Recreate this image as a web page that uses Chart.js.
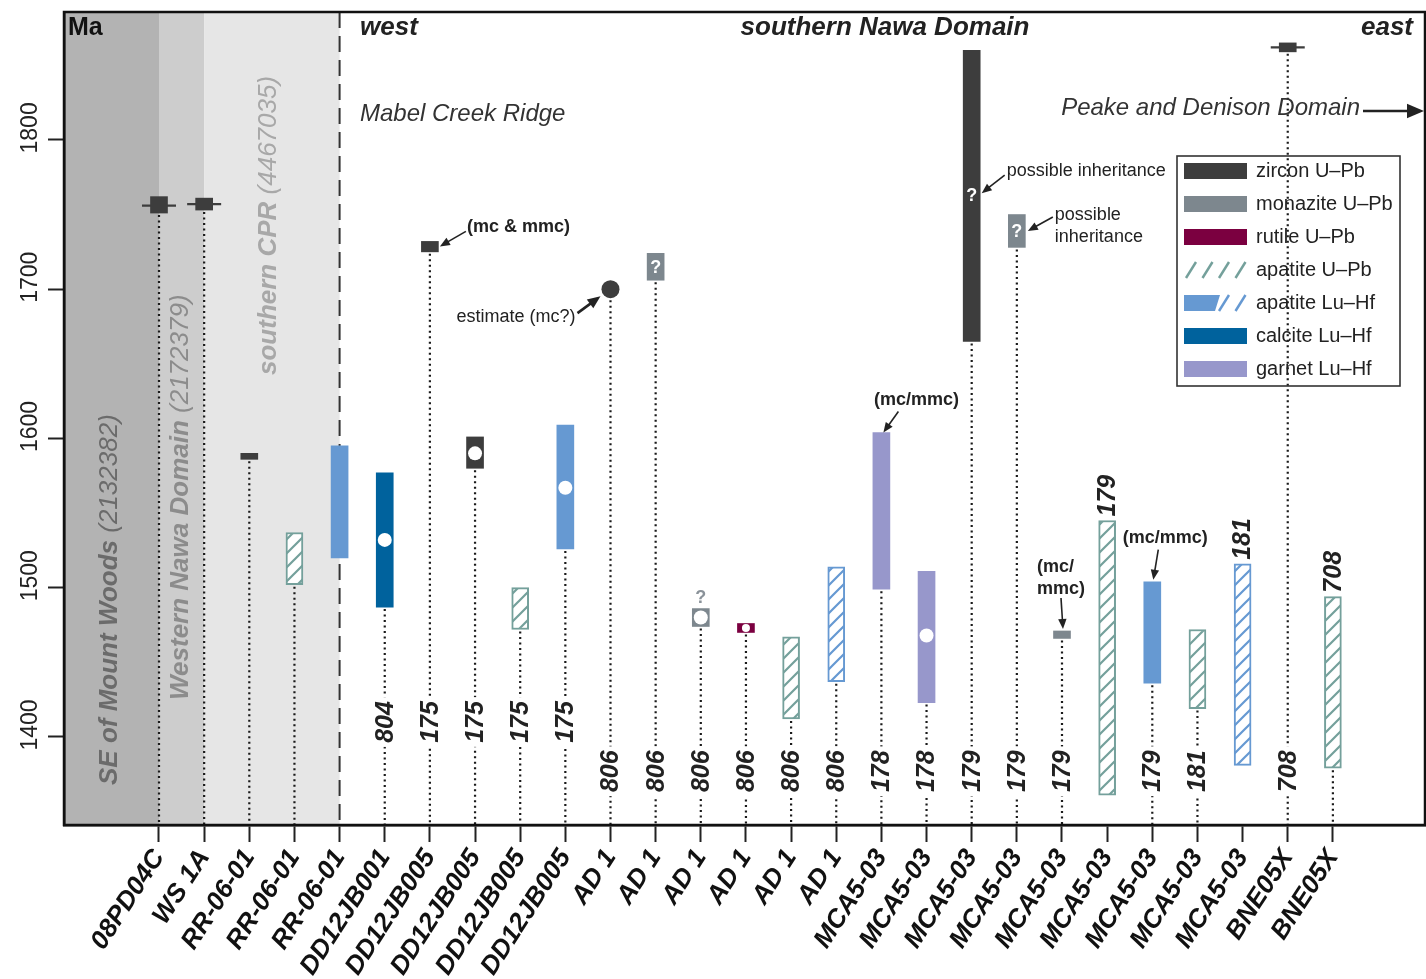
<!DOCTYPE html>
<html>
<head>
<meta charset="utf-8">
<script src="https://cdn.jsdelivr.net/npm/chart.js@4.4.1/dist/chart.umd.min.js"></script>
<style>
html, body { margin: 0; padding: 0; background: #fff; }
</style>
</head>
<body>
<canvas id="myChart" width="1426" height="979"></canvas>
<script>
"use strict";
// samples along the x axis
const samples = ['08PD04C', 'WS 1A', 'RR-06-01', 'RR-06-01', 'RR-06-01', 'DD12JB001',
  'DD12JB005', 'DD12JB005', 'DD12JB005', 'DD12JB005', 'AD 1', 'AD 1', 'AD 1', 'AD 1',
  'AD 1', 'AD 1', 'MCA5-03', 'MCA5-03', 'MCA5-03', 'MCA5-03', 'MCA5-03', 'MCA5-03',
  'MCA5-03', 'MCA5-03', 'MCA5-03', 'BNE05X', 'BNE05X'];
const sampleIds = ['', '', '', '', '', '804', '175', '175', '175', '175', '806', '806',
  '806', '806', '806', '806', '178', '178', '179', '179', '179', '179', '179', '181',
  '181', '708', '708'];
const idAbove = [21, 24, 26];
const yTicks = [1400, 1500, 1600, 1700, 1800];

// ages (Ma) per method: sample position, lower and upper age
const zirconAt = [0, 1, 2, 6, 7, 18, 25];
const zirconLo = [1751, 1753, 1586, 1725, 1580, 1665, 1859];
const zirconHi = [1762, 1761, 1590, 1732, 1601, 1860, 1865];
const zirconEstAt = [10];
const zirconEst = [1700];
const whiskerAt = [0, 1, 25];
const whiskerAge = [1756, 1757, 1862];
const monaziteAt = [11, 12, 19, 20];
const monaziteLo = [1706, 1474, 1728, 1466];
const monaziteHi = [1724, 1486, 1750, 1471];
const rutileAt = [13];
const rutileLo = [1470];
const rutileHi = [1476];
const apUPbAt = [3, 8, 14, 21, 23, 26];
const apUPbLo = [1502, 1472, 1412, 1361, 1419, 1379];
const apUPbHi = [1537, 1500, 1467, 1545, 1472, 1494];
const apLuHfAt = [4, 9, 22];
const apLuHfLo = [1520, 1526, 1436];
const apLuHfHi = [1595, 1609, 1504];
const apLuHfHatchAt = [15, 24];
const apLuHfHatchLo = [1437, 1381];
const apLuHfHatchHi = [1514, 1516];
const calciteAt = [5];
const calciteLo = [1487];
const calciteHi = [1577];
const garnetAt = [16, 17];
const garnetLo = [1499, 1423];
const garnetHi = [1604, 1511];
const meanAt = [5, 7, 9, 12, 13, 17];
const meanAge = [1532, 1590, 1567, 1480, 1473, 1468];

const FONT = "'Liberation Sans', Arial, sans-serif";
const C = {
  zircon: '#3d3d3d', monazite: '#7d878e', rutile: '#7b0040', apUPb: '#74a09b',
  apLuHf: '#6699d2', calcite: '#00629d', garnet: '#9797cb'
};

function ranges(at, lo, hi) {
  return at.map((x, i) => ({ x: x, y: [lo[i], hi[i]] }));
}
function points(at, v) {
  return at.map((x, i) => ({ x: x, y: v[i] }));
}

function hatch(color) {
  const c = document.createElement('canvas');
  c.width = 14; c.height = 14;
  const g = c.getContext('2d');
  g.fillStyle = '#fff';
  g.fillRect(0, 0, 14, 14);
  g.strokeStyle = color;
  g.lineWidth = 2.2;
  g.beginPath();
  g.moveTo(0, 14); g.lineTo(14, 0);
  g.moveTo(-7, 7); g.lineTo(7, -7);
  g.moveTo(7, 21); g.lineTo(21, 7);
  g.stroke();
  return g.createPattern(c, 'repeat');
}

function solidBar(label, data, color) {
  return { type: 'bar', label: label, data: data, backgroundColor: color, borderWidth: 0,
    grouped: false, barThickness: 17, order: 5 };
}
function hatchBar(label, data, color) {
  return { type: 'bar', label: label, data: data, backgroundColor: hatch(color),
    borderColor: color, borderWidth: 2, borderSkipped: false, grouped: false,
    barThickness: 17, order: 5 };
}

function vText(ctx, parts, x, y, align) {
  ctx.save();
  ctx.translate(x, y);
  ctx.rotate(-Math.PI / 2);
  ctx.textBaseline = 'middle';
  let total = 0;
  for (const p of parts) { ctx.font = p.font; total += ctx.measureText(p.t).width; }
  let pos = align === 'center' ? -total / 2 : 0;
  ctx.textAlign = 'left';
  for (const p of parts) {
    ctx.font = p.font;
    ctx.fillStyle = p.color;
    ctx.fillText(p.t, pos, 0);
    pos += ctx.measureText(p.t).width;
  }
  ctx.restore();
  return total;
}

function arrow(ctx, x1, y1, x2, y2, w, head) {
  const a = Math.atan2(y2 - y1, x2 - x1);
  ctx.save();
  ctx.strokeStyle = '#222';
  ctx.fillStyle = '#222';
  ctx.lineWidth = w;
  ctx.beginPath();
  ctx.moveTo(x1, y1);
  ctx.lineTo(x2 - Math.cos(a) * head * 0.8, y2 - Math.sin(a) * head * 0.8);
  ctx.stroke();
  const bx = x2 - head * Math.cos(a), by = y2 - head * Math.sin(a);
  const s = head * 0.42;
  ctx.beginPath();
  ctx.moveTo(x2, y2);
  ctx.lineTo(bx + s * Math.sin(a), by - s * Math.cos(a));
  ctx.lineTo(bx - s * Math.sin(a), by + s * Math.cos(a));
  ctx.closePath();
  ctx.fill();
  ctx.restore();
}

function text(ctx, t, x, y, font, align, color) {
  ctx.font = font;
  ctx.textAlign = align || 'left';
  ctx.textBaseline = 'middle';
  ctx.fillStyle = color || '#222';
  ctx.fillText(t, x, y);
}

// lowest age drawn at each sample position, used for the dotted drop lines
function lowestAt(i) {
  let lo = Infinity;
  const sets = [[zirconAt, zirconLo], [monaziteAt, monaziteLo], [rutileAt, rutileLo],
    [apUPbAt, apUPbLo], [apLuHfAt, apLuHfLo], [apLuHfHatchAt, apLuHfHatchLo],
    [calciteAt, calciteLo], [garnetAt, garnetLo], [zirconEstAt, zirconEst]];
  for (const [at, v] of sets) {
    at.forEach((x, k) => { if (x === i) lo = Math.min(lo, v[k]); });
  }
  return lo;
}

const figurePlugin = {
  id: 'figure',
  beforeDraw(chart) {
    const ctx = chart.ctx, a = chart.chartArea;
    const xs = chart.scales.x;
    ctx.save();
    ctx.fillStyle = '#fff';
    ctx.fillRect(0, 0, chart.width, chart.height);
    const x0 = xs.getPixelForValue(0), x1 = xs.getPixelForValue(1), x4 = xs.getPixelForValue(4);
    ctx.fillStyle = '#b3b3b3'; ctx.fillRect(a.left, a.top, x0 - a.left, a.bottom - a.top);
    ctx.fillStyle = '#cdcdcd'; ctx.fillRect(x0, a.top, x1 - x0, a.bottom - a.top);
    ctx.fillStyle = '#e6e6e6'; ctx.fillRect(x1, a.top, x4 - x1, a.bottom - a.top);
    vText(ctx, [{ t: 'SE of Mount Woods', font: `italic bold 26px ${FONT}`, color: '#6b6b6b' },
      { t: ' (2132382)', font: `italic 26px ${FONT}`, color: '#6b6b6b' }], 110, 785);
    vText(ctx, [{ t: 'Western Nawa Domain', font: `italic bold 26px ${FONT}`, color: '#8c8c8c' },
      { t: ' (2172379)', font: `italic 26px ${FONT}`, color: '#8c8c8c' }], 181, 700);
    vText(ctx, [{ t: 'southern CPR', font: `italic bold 26px ${FONT}`, color: '#a8a8a8' },
      { t: ' (4467035)', font: `italic 26px ${FONT}`, color: '#a8a8a8' }], 269, 375);
    ctx.restore();
  },
  beforeDatasetsDraw(chart) {
    const ctx = chart.ctx, a = chart.chartArea;
    const xs = chart.scales.x, ys = chart.scales.y;
    ctx.save();
    // boundary of the southern Nawa Domain
    ctx.strokeStyle = '#333';
    ctx.lineWidth = 2;
    ctx.setLineDash([16, 8]);
    ctx.beginPath();
    ctx.moveTo(xs.getPixelForValue(4), a.top);
    ctx.lineTo(xs.getPixelForValue(4), a.bottom);
    ctx.stroke();
    // dotted drop lines
    ctx.setLineDash([2, 3.5]);
    ctx.strokeStyle = '#1a1a1a';
    ctx.lineWidth = 2.2;
    samples.forEach((s, i) => {
      if (i === 4 || i === 21 || i === 24) return;
      const x = xs.getPixelForValue(i);
      let y = ys.getPixelForValue(lowestAt(i));
      if (zirconEstAt.includes(i)) y += 9;
      ctx.beginPath();
      ctx.moveTo(x, y + 2);
      ctx.lineTo(x, a.bottom);
      ctx.stroke();
    });
    ctx.setLineDash([]);
    // sample id numbers
    const idFont = `italic bold 25px ${FONT}`;
    ctx.font = idFont;
    sampleIds.forEach((t, i) => {
      if (!t) return;
      const x = xs.getPixelForValue(i);
      const w = ctx.measureText(t).width;
      if (idAbove.includes(i)) {
        let top = -Infinity;
        [[apUPbAt, apUPbHi], [apLuHfHatchAt, apLuHfHatchHi]].forEach(([at, v]) => {
          at.forEach((xx, k) => { if (xx === i) top = Math.max(top, v[k]); });
        });
        const yb = ys.getPixelForValue(top) - 4;
        vText(ctx, [{ t: t, font: idFont, color: '#222' }], x + 1, yb);
      } else {
        const yc = ys.getPixelForValue(i < 10 ? 1410 : 1377);
        ctx.fillStyle = '#fff';
        ctx.fillRect(x - 10, yc - w / 2 - 4, 20, w + 8);
        vText(ctx, [{ t: t, font: idFont, color: '#222' }], x + 1, yc, 'center');
      }
    });
    ctx.restore();
  },
  afterDatasetsDraw(chart) {
    const ctx = chart.ctx, a = chart.chartArea;
    const xs = chart.scales.x, ys = chart.scales.y;
    const X = v => xs.getPixelForValue(v), Y = v => ys.getPixelForValue(v);
    ctx.save();
    const f18 = `18px ${FONT}`, b18 = `bold 18px ${FONT}`;
    // question marks
    text(ctx, '?', X(11), Y(1715) + 1, b18, 'center', '#fff');
    text(ctx, '?', X(18), Y(1763) + 1, b18, 'center', '#fff');
    text(ctx, '?', X(19), Y(1739) + 1, b18, 'center', '#fff');
    text(ctx, '?', X(12), Y(1486) - 11, b18, 'center', '#8a9299');
    // annotations
    let x = X(6), y = Y(1732);
    arrow(ctx, x + 36, y - 10, x + 10, y + 5, 1.6, 10);
    text(ctx, '(mc & mmc)', x + 37, y - 14, b18);
    x = X(10); y = Y(1700);
    arrow(ctx, x - 33, y + 24, x - 10, y + 7, 2.6, 13);
    text(ctx, 'estimate (mc?)', x - 35, y + 28, f18, 'right');
    x = X(18); y = Y(1763);
    arrow(ctx, x + 33, y - 20, x + 10, y - 2, 1.6, 10);
    text(ctx, 'possible inheritance', x + 35, y - 24, f18);
    x = X(19); y = Y(1739);
    arrow(ctx, x + 36, y - 14, x + 11, y, 1.6, 10);
    text(ctx, 'possible', x + 38, y - 16, f18);
    text(ctx, 'inheritance', x + 38, y + 6, f18);
    x = X(16); y = Y(1604);
    arrow(ctx, x + 17, y - 21, x + 2, y, 1.6, 10);
    text(ctx, '(mc/mmc)', x + 35, y - 32, b18, 'center');
    x = X(20); y = Y(1471);
    arrow(ctx, x - 1, y - 33, x + 1, y - 2, 1.6, 10);
    text(ctx, '(mc/', x - 25, y - 64, b18);
    text(ctx, 'mmc)', x - 25, y - 42, b18);
    x = X(22); y = Y(1504);
    arrow(ctx, x + 6, y - 32, x + 1, y - 2, 1.6, 10);
    text(ctx, '(mc/mmc)', x + 13, y - 44, b18, 'center');
    // headers
    text(ctx, 'Ma', a.left + 4, 28, `bold 25px ${FONT}`, 'left', '#111');
    text(ctx, 'west', 360, 28, `italic bold 26px ${FONT}`, 'left', '#222');
    text(ctx, 'southern Nawa Domain', 885, 28, `italic bold 26px ${FONT}`, 'center', '#222');
    text(ctx, 'east', 1413, 28, `italic bold 26px ${FONT}`, 'right', '#222');
    text(ctx, 'Mabel Creek Ridge', 360, 114, `italic 24px ${FONT}`, 'left', '#333');
    text(ctx, 'Peake and Denison Domain', 1360, 108, `italic 24px ${FONT}`, 'right', '#333');
    arrow(ctx, 1363, 111, 1424, 111, 2.5, 17);
    // legend
    const lx = 1177, ly = 156, lw = 223, lh = 230;
    ctx.strokeStyle = '#333';
    ctx.lineWidth = 1.6;
    ctx.strokeRect(lx, ly, lw, lh);
    const entries = [
      ['zircon U–Pb', 'solid', C.zircon], ['monazite U–Pb', 'solid', C.monazite],
      ['rutile U–Pb', 'solid', C.rutile], ['apatite U–Pb', 'hatch', C.apUPb],
      ['apatite Lu–Hf', 'mixed', C.apLuHf], ['calcite Lu–Hf', 'solid', C.calcite],
      ['garnet Lu–Hf', 'solid', C.garnet]];
    entries.forEach(([name, kind, col], k) => {
      const cy = 171 + k * 33, sx = 1184, sw = 63;
      ctx.fillStyle = col;
      ctx.strokeStyle = col;
      if (kind === 'solid') {
        ctx.fillRect(sx, cy - 8, sw, 16);
      } else {
        ctx.lineWidth = 2.5;
        const start = kind === 'mixed' ? 2 : 0;
        if (kind === 'mixed') {
          ctx.beginPath();
          ctx.moveTo(sx, cy - 8); ctx.lineTo(sx + 36, cy - 8);
          ctx.lineTo(sx + 31, cy + 8); ctx.lineTo(sx, cy + 8);
          ctx.closePath(); ctx.fill();
        }
        for (let j = start; j < 4; j++) {
          const bx = sx + 2 + j * 16.5;
          ctx.beginPath();
          ctx.moveTo(bx, cy + 8);
          ctx.lineTo(bx + 10, cy - 8);
          ctx.stroke();
        }
      }
      text(ctx, name, 1256, cy, `20px ${FONT}`, 'left', '#222');
    });
    // y tick labels
    yTicks.forEach(v => vText(ctx, [{ t: String(v), font: `23px ${FONT}`, color: '#222' }], 31, Y(v) - 12, 'center'));
    // frame
    ctx.strokeStyle = '#111';
    ctx.lineWidth = 2.5;
    ctx.strokeRect(a.left, a.top, a.right - a.left, a.bottom - a.top);
    ctx.restore();
  }
};

function noPad(axis) {
  axis.paddingLeft = 0;
  axis.paddingRight = 0;
  axis.paddingTop = 0;
  axis.paddingBottom = 0;
}

const config = {
  type: 'bar',
  data: {
    datasets: [
      { type: 'scatter', label: 'zircon whisker', data: points(whiskerAt, whiskerAge),
        pointStyle: 'line', pointRadius: 17, borderColor: C.zircon, pointBorderWidth: 2.2, order: 10 },
      solidBar('zircon U–Pb', ranges(zirconAt, zirconLo, zirconHi), C.zircon),
      solidBar('monazite U–Pb', ranges(monaziteAt, monaziteLo, monaziteHi), C.monazite),
      solidBar('rutile U–Pb', ranges(rutileAt, rutileLo, rutileHi), C.rutile),
      hatchBar('apatite U–Pb', ranges(apUPbAt, apUPbLo, apUPbHi), C.apUPb),
      solidBar('apatite Lu–Hf', ranges(apLuHfAt, apLuHfLo, apLuHfHi), C.apLuHf),
      hatchBar('apatite Lu–Hf (hatched)', ranges(apLuHfHatchAt, apLuHfHatchLo, apLuHfHatchHi), C.apLuHf),
      solidBar('calcite Lu–Hf', ranges(calciteAt, calciteLo, calciteHi), C.calcite),
      solidBar('garnet Lu–Hf', ranges(garnetAt, garnetLo, garnetHi), C.garnet),
      { type: 'scatter', label: 'zircon estimate', data: points(zirconEstAt, zirconEst),
        pointRadius: 9, backgroundColor: C.zircon, borderWidth: 0, order: 1 },
      { type: 'scatter', label: 'mean', data: points(meanAt, meanAge),
        pointRadius: ctx => (ctx.raw && ctx.raw.x === 13 ? 4 : 7), backgroundColor: '#fff',
        borderWidth: 0, order: 0 }
    ]
  },
  options: {
    responsive: false,
    animation: false,
    events: [],
    layout: { autoPadding: false, padding: { top: 12, right: 1, left: 0, bottom: 0 } },
    plugins: { legend: { display: false }, tooltip: { enabled: false } },
    scales: {
      x: {
        type: 'linear',
        offset: false,
        min: -2.104,
        max: 28.04,
        afterBuildTicks: axis => { axis.ticks = samples.map((s, i) => ({ value: i })); },
        afterFit: axis => { axis.height = 154; noPad(axis); },
        grid: { offset: false, drawOnChartArea: false, tickLength: 17, tickWidth: 2, tickColor: '#222' },
        border: { display: true, color: '#111', width: 2.5 },
        ticks: {
          autoSkip: false, minRotation: 57, maxRotation: 57, padding: 2, color: '#111',
          font: { family: FONT, size: 26, style: 'italic', weight: 'bold' },
          callback: v => samples[v] !== undefined ? samples[v] : ''
        }
      },
      y: {
        type: 'linear',
        min: 1341,
        max: 1885.7,
        afterBuildTicks: axis => { axis.ticks = yTicks.map(v => ({ value: v })); },
        afterFit: axis => { axis.width = 64; noPad(axis); },
        grid: { drawOnChartArea: false, tickLength: 16, tickWidth: 2, tickColor: '#222' },
        border: { display: true, color: '#111', width: 2.5 },
        ticks: { display: false }
      }
    }
  },
  plugins: [figurePlugin]
};

let myChart = new Chart(document.getElementById('myChart'), config);
</script>
</body>
</html>
